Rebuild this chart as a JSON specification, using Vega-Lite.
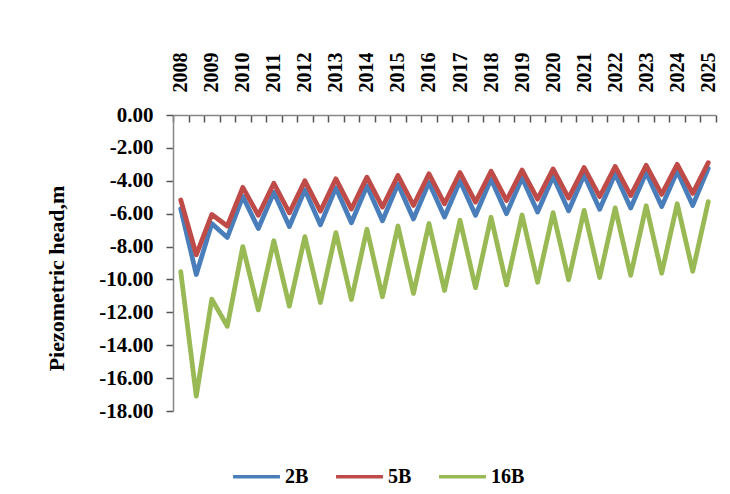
{
  "$schema": "https://vega.github.io/schema/vega-lite/v6.json",
  "width": 543,
  "height": 296,
  "autosize": {"type": "none"},
  "padding": {"left": 173, "top": 115, "right": 14, "bottom": 83},
  "background": "white",
  "config": {
    "view": {"stroke": null},
    "font": "Liberation Serif, Times New Roman, serif",
    "axis": {"domainColor": "#868686", "grid": false, "domainWidth": 1.5, "labelFont": "Liberation Serif, Times New Roman, serif", "titleFont": "Liberation Serif, Times New Roman, serif", "labelColor": "black", "titleColor": "black"},
    "legend": {"labelFont": "Liberation Serif, Times New Roman, serif"}
  },
  "data": {
    "values": [
      {"t": 2008, "2B": -5.7, "5B": -5.17, "16B": -9.53},
      {"t": 2008.5, "2B": -9.7, "5B": -8.5, "16B": -17.1},
      {"t": 2009, "2B": -6.6, "5B": -6.05, "16B": -11.2},
      {"t": 2009.5, "2B": -7.45, "5B": -6.75, "16B": -12.85},
      {"t": 2010, "2B": -4.95, "5B": -4.4, "16B": -8.0},
      {"t": 2010.5, "2B": -6.9, "5B": -6.1, "16B": -11.85},
      {"t": 2011, "2B": -4.7, "5B": -4.15, "16B": -7.65},
      {"t": 2011.5, "2B": -6.78, "5B": -5.95, "16B": -11.62},
      {"t": 2012, "2B": -4.55, "5B": -4.0, "16B": -7.4},
      {"t": 2012.5, "2B": -6.68, "5B": -5.85, "16B": -11.4},
      {"t": 2013, "2B": -4.42, "5B": -3.88, "16B": -7.15},
      {"t": 2013.5, "2B": -6.55, "5B": -5.72, "16B": -11.22},
      {"t": 2014, "2B": -4.3, "5B": -3.78, "16B": -6.95},
      {"t": 2014.5, "2B": -6.43, "5B": -5.6, "16B": -11.05},
      {"t": 2015, "2B": -4.2, "5B": -3.68, "16B": -6.75},
      {"t": 2015.5, "2B": -6.32, "5B": -5.5, "16B": -10.85},
      {"t": 2016, "2B": -4.1, "5B": -3.58, "16B": -6.6},
      {"t": 2016.5, "2B": -6.2, "5B": -5.4, "16B": -10.67},
      {"t": 2017, "2B": -4.0, "5B": -3.5, "16B": -6.4},
      {"t": 2017.5, "2B": -6.1, "5B": -5.3, "16B": -10.5},
      {"t": 2018, "2B": -3.9, "5B": -3.42, "16B": -6.22},
      {"t": 2018.5, "2B": -6.0, "5B": -5.2, "16B": -10.33},
      {"t": 2019, "2B": -3.82, "5B": -3.35, "16B": -6.08},
      {"t": 2019.5, "2B": -5.9, "5B": -5.12, "16B": -10.17},
      {"t": 2020, "2B": -3.74, "5B": -3.28, "16B": -5.94},
      {"t": 2020.5, "2B": -5.82, "5B": -5.05, "16B": -10.02},
      {"t": 2021, "2B": -3.65, "5B": -3.2, "16B": -5.8},
      {"t": 2021.5, "2B": -5.73, "5B": -4.97, "16B": -9.88},
      {"t": 2022, "2B": -3.57, "5B": -3.13, "16B": -5.65},
      {"t": 2022.5, "2B": -5.65, "5B": -4.9, "16B": -9.75},
      {"t": 2023, "2B": -3.5, "5B": -3.06, "16B": -5.52},
      {"t": 2023.5, "2B": -5.57, "5B": -4.83, "16B": -9.62},
      {"t": 2024, "2B": -3.42, "5B": -3.0, "16B": -5.4},
      {"t": 2024.5, "2B": -5.5, "5B": -4.77, "16B": -9.5},
      {"t": 2025, "2B": -3.25, "5B": -2.9, "16B": -5.27}
    ]
  },
  "transform": [{"fold": ["2B", "5B", "16B"], "as": ["series", "head"]}],
  "resolve": {"axis": {"x": "independent"}},
  "layer": [
    {
      "mark": {"type": "line", "strokeWidth": 4.8, "strokeJoin": "round", "strokeCap": "round"},
      "encoding": {
        "x": {
          "field": "t", "type": "quantitative",
          "scale": {"domain": [2007.75, 2025.25], "nice": false, "zero": false},
          "axis": {
            "orient": "bottom", "offset": -296, "labels": false, "title": null,
            "ticks": true, "tickSize": 7, "tickColor": "#555555", "tickWidth": 1.5, "tickOpacity": 1,
            "values": [2007.75, 2008.25, 2008.75, 2009.25, 2009.75, 2010.25, 2010.75, 2011.25, 2011.75, 2012.25, 2012.75, 2013.25, 2013.75, 2014.25, 2014.75, 2015.25, 2015.75, 2016.25, 2016.75, 2017.25, 2017.75, 2018.25, 2018.75, 2019.25, 2019.75, 2020.25, 2020.75, 2021.25, 2021.75, 2022.25, 2022.75, 2023.25, 2023.75, 2024.25, 2024.75, 2025.25]
          }
        },
        "y": {
          "field": "head", "type": "quantitative",
          "scale": {"domain": [-18, 0], "nice": false, "zero": false},
          "axis": {
            "values": [0, -2, -4, -6, -8, -10, -12, -14, -16, -18],
            "labelExpr": "replace(format(datum.value, '.2f'), '\u2212', '-')",
            "labelOverlap": false, "labelFlush": false, "labelBound": false,
            "ticks": true, "tickColor": "#555555", "tickWidth": 1.5, "tickOpacity": 1, "tickSize": 7,
            "labelFont": "Liberation Serif, Times New Roman, serif",
            "labelFontSize": 21, "labelFontWeight": "bold", "labelPadding": 13,
            "title": "Piezometric head,m", "titleFontSize": 22, "titleFontWeight": "bold",
            "titleFont": "Liberation Serif, Times New Roman, serif",
            "titleX": -117, "titleY": 163, "titleAngle": -90, "titleAlign": "center", "titleBaseline": "middle"
          }
        },
        "color": {
          "field": "series", "type": "nominal",
          "scale": {"domain": ["2B", "5B", "16B"], "range": ["#4A7EBB", "#BE4B48", "#98B954"]},
          "sort": ["2B", "5B", "16B"],
          "legend": {
            "title": null, "orient": "none", "direction": "horizontal", "legendX": 58, "legendY": 336,
            "symbolType": "stroke", "symbolSize": 2200, "symbolStrokeWidth": 3.5,
            "labelFont": "Liberation Serif, Times New Roman, serif",
            "labelFontSize": 20, "labelFontWeight": "bold", "labelColor": "black", "labelOffset": 3, "columnPadding": 20
          }
        }
      }
    },
    {
      "mark": {"type": "point", "opacity": 0},
      "encoding": {
        "x": {
          "field": "t", "type": "quantitative",
          "axis": {
            "orient": "top", "domain": false, "ticks": false, "tickSize": 0, "title": null,
            "values": [2008, 2009, 2010, 2011, 2012, 2013, 2014, 2015, 2016, 2017, 2018, 2019, 2020, 2021, 2022, 2023, 2024, 2025],
            "format": "d", "labelAngle": -90, "labelAlign": "left", "labelBaseline": "middle",
            "labelOverlap": false, "labelFlush": false,
            "labelFont": "Liberation Serif, Times New Roman, serif",
            "labelFontSize": 20, "labelFontWeight": "bold", "labelPadding": 23
          }
        }
      }
    }
  ]
}
